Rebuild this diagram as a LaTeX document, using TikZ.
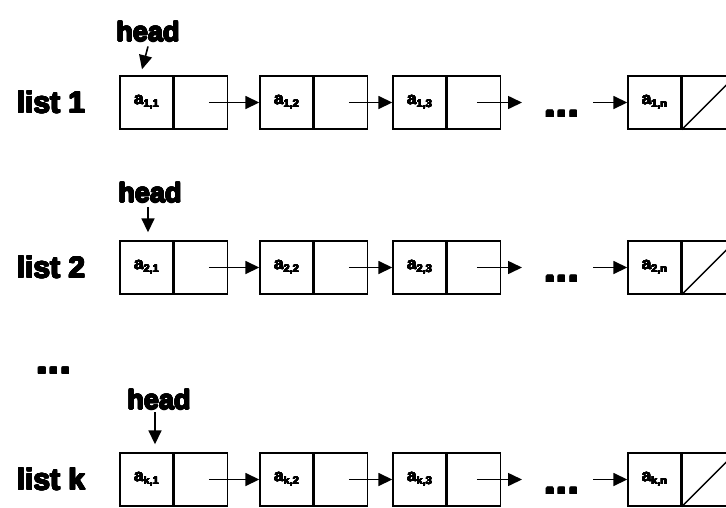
\documentclass[tikz,border=0pt]{standalone}
\usepackage{fontspec}
\setmainfont{Liberation Sans}
\newfontfamily\heavy{Liberation Sans Bold}
\usepackage{contour}
\contourlength{0.7pt}
\usetikzlibrary{arrows.meta,calc}
% heavy text: bold face thickened by an outline of its own colour
\newcommand{\thick}[1]{\contour{black}{#1}}
% element name with its index pair set low beside it
\newcommand{\elem}[1]{\contourlength{0.3pt}\contour{black}{a\raisebox{-3pt}{\fontsize{11}{11}\selectfont #1}}}

\begin{document}
\begin{tikzpicture}[x=1pt,y=-1pt,
  cell/.style={draw, line width=1.4pt, minimum width=53pt, minimum height=53pt,
    inner sep=0pt, font=\heavy\fontsize{17}{17}\selectfont},
  link/.style={line width=1.6pt, -{Triangle[length=14pt,width=13pt]}},
  listlabel/.style={font=\heavy\fontsize{30}{30}\selectfont, inner sep=0pt},
  headlabel/.style={font=\heavy\fontsize{27}{27}\selectfont, inner sep=0pt},
  ellip/.style={font=\heavy\fontsize{42}{42}\selectfont, inner sep=0pt}]

\useasboundingbox (0,0) rectangle (726,507);
\clip (0,0) rectangle (726,507);

% one linked list per row: row index / middle line / list name
\foreach \r/\m/\k in {1/102.5/1, 2/267.5/2, 3/479.5/k} {
  \node[listlabel] (lab\r) at (51,\m) {\thick{list \k}};
  % nodes: data cell + pointer cell
  \node[cell] (r\r-c1) at (146.5,\m) {\elem{\k,1}};
  \node[cell, anchor=west] (r\r-p1) at (r\r-c1.east) {};
  \node[cell] (r\r-c2) at (286.5,\m) {\elem{\k,2}};
  \node[cell, anchor=west] (r\r-p2) at (r\r-c2.east) {};
  \node[cell] (r\r-c3) at (419.5,\m) {\elem{\k,3}};
  \node[cell, anchor=west] (r\r-p3) at (r\r-c3.east) {};
  \node[cell] (r\r-c4) at (654.5,\m) {\elem{\k,n}};
  \node[cell, anchor=west] (r\r-p4) at (r\r-c4.east) {};
  % null pointer
  \draw[line width=1.4pt] (r\r-p4.south west) -- (r\r-p4.north east);
  % next pointers
  \draw[link] ($(r\r-p1.center)+(8,0)$) -- (r\r-c2.west);
  \draw[link] ($(r\r-p2.center)+(8,0)$) -- (r\r-c3.west);
  \coordinate (r\r-e3) at (522,\m);
  \draw[link] ($(r\r-p3.center)+(3,0)$) -- (r\r-e3);
  \node[ellip] (r\r-dots) at (562,\m+12) {\thick{...}};
  \coordinate (r\r-s4) at (593,\m);
  \draw[link] (r\r-s4) -- (r\r-c4.west);
}

% head pointers
\node[headlabel] (h1) at (148,32) {\thick{head}};
\draw[link] ([yshift=-4pt]h1.south) -- ([xshift=-4.5pt,yshift=6pt]r1-c1.north);
\node[headlabel] (h2) at (150,193) {\thick{head}};
\draw[link] ([xshift=-2pt,yshift=-4pt]h2.south) -- ([xshift=1.5pt,yshift=8pt]r2-c1.north);
\node[headlabel] (h3) at (159,400) {\thick{head}};
\draw[link] ([xshift=-4pt,yshift=-2pt]h3.south) -- ([xshift=8.5pt,yshift=8pt]r3-c1.north);

% lists left out between list 2 and list k
\node[ellip] (gap) at (54,371) {\thick{...}};
\end{tikzpicture}
\end{document}
